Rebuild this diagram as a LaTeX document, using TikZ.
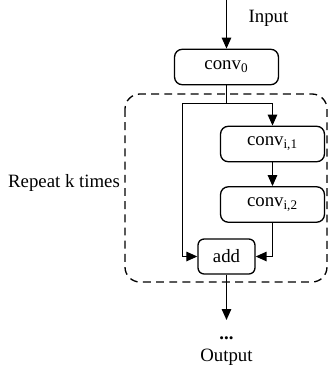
\documentclass[tikz,border=0pt]{standalone}
\usepackage{fontspec}
\setmainfont{Liberation Serif}
\usetikzlibrary{arrows.meta,positioning}
\tikzset{
  blockfig/.style={>={Triangle[length=2.2mm,width=1.9mm]},line width=0.75pt,
    every node/.style={font=\fontsize{10.7}{13}\selectfont}},
  convbox/.style={draw,rounded corners=4.5pt,minimum width=2.08cm,
    minimum height=0.71cm,inner sep=0pt},
  addbox/.style={draw,rounded corners=3.5pt,minimum width=1.14cm,
    minimum height=0.7cm,inner sep=0pt},
  repeatbox/.style={draw,dash pattern=on 4.5pt off 3pt,rounded corners=8.5pt},
}

\begin{document}
\begin{tikzpicture}[blockfig]
    \useasboundingbox (0,0) rectangle (6.58,-7.38);

    \coordinate (intop) at (4.53,0);
    \node (input) at (5.37,-0.36) {Input};
    \node[convbox] (conv0) at (4.53,-1.34) {conv\textsubscript{0}};

    % repeated block
    \draw[repeatbox] (2.5,-1.88) rectangle (6.54,-5.64);
    \node (repeat) at (1.28,-3.66) {Repeat k times};

    \node[convbox] (convi1) at (5.45,-2.88) {conv\textsubscript{i,1}};
    \node[convbox] (convi2) at (5.45,-4.09) {conv\textsubscript{i,2}};
    \node[addbox] (add) at (4.53,-5.13) {add};

    \coordinate (split) at (4.53,-2.07);
    \coordinate (skip) at (3.65,-2.07);

    \draw[->] (intop) -- (conv0);
    \draw (conv0.south) -- (split);
    \draw[->] (skip) -- (split) -| (convi1.north);
    \draw[->] (convi1) -- (convi2);
    \draw[->] (skip) |- (add.west);
    \draw[->] (convi2.south) |- (add.east);

    % output
    \coordinate (outtip) at (4.53,-6.4);
    \draw[->] (add) -- (outtip);
    \node[font=\fontsize{10.7}{13}\selectfont\bfseries,below=0.2cm of outtip] (dots) {...};
    \node (output) at (4.53,-7.14) {Output};
\end{tikzpicture}
\end{document}
